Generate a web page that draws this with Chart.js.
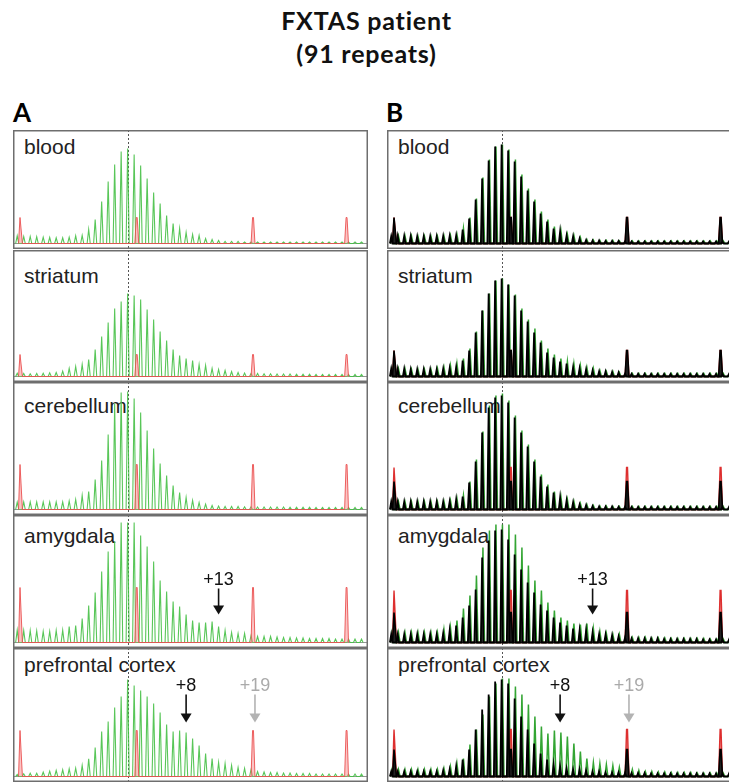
<!DOCTYPE html>
<html>
<head>
<meta charset="utf-8">
<script src="https://cdn.jsdelivr.net/npm/chart.js@4"></script>
<style>
  body { margin: 0; background: #fff; }
  #page { position: relative; width: 729px; height: 783px; overflow: hidden; font-family: "Liberation Sans", Arial, sans-serif; }
  .title { position: absolute; left: 2px; width: 729px; text-align: center; font-family: Lato, sans-serif; font-weight: 700; font-size: 25px; line-height: 25px; letter-spacing: 0.8px; color: #111; }
  .letter { position: absolute; font-family: Lato, sans-serif; font-weight: 700; font-size: 26px; line-height: 26px; color: #000; }
  .tissue { position: absolute; font-size: 21px; line-height: 21px; color: #222; white-space: nowrap; z-index: 0; }
  .note { position: absolute; font-size: 18px; line-height: 18px; white-space: nowrap; transform: translateX(-50%); z-index: 2; }
  canvas { position: absolute; z-index: 1; }
</style>
</head>
<body>
<div id="page">
  <div class="title" style="top:8px">FXTAS patient</div>
  <div class="title" style="top:41px">(91 repeats)</div>
  <div class="letter" style="left:13px;top:99px">A</div>
  <div class="letter" style="left:386px;top:99px">B</div>
</div>
<script>
// tissues, one panel per row
const tissues = ['blood', 'striatum', 'cerebellum', 'amygdala', 'prefrontal cortex'];

// peak heights per repeat (peak 17 = modal, under the dashed line)
// column A: green trace
const aBlood = [7.7,7,7,6.7,6.3,6,5.7,5.7,6.3,7.7, 8,14,24,42,62,79,92,95,89,78, 65,51,40,28,20,15,11,9,8,5, 4,3,2,2,2,1.5,1.5,1.5,1.5,1.5, 1.5,1.5,1.5,1.5,1.5,1.5,1.5,1.5,1.5,1.5, 1.5,1.5,1.5,1.5];
const aStriatum = [3.3,3,2.7,3,3.3,3.7,4,5.3,8,10, 12,17,27,40,54,68,75,83,81,77, 67,57,45,36,27,21,18,16,12,11, 8,7,6,5,4,3.5,3,3,2.7,2.7, 2.5,2.5,2.5,2.3,2.3,2.3,2,2,2,2, 2,2,2,2];
const aCerebellum = [7.3,7.5,7.5,7.5,7.5,7.5,7.5,7.5,8.5,10, 14,18,30,49,75,106,117,118,111,97, 79,61,46,34,24,17,12,9,7,5.3, 4,3.5,3,3,3,2.7,2.7,2.5,2.5,2.5, 2.5,2.5,2.3,2.3,2.3,2.3,2,2,2,2, 2,2,2,2];
const aAmygdala = [12.3,12,12,11.7,11,11,12,12.3,16,17, 24,37,50,71,91,101,120,120,120,107, 96,81,62,51,41,36,28,22,20,20, 21,16,12,10,9,9,7,6,6,6, 5.5,5,5,4.5,4.5,4,4,4,4,3.5, 3.5,3.5,3.5,3.5];
const aPrefrontal = [2,2.7,3.3,3.3,4.3,5.3,6,6.7,7.7,8.3, 11,17.7,29,45,55,69,80,97,91,86, 80,73,64,52,45,46,44,38,31,23, 18,14,13,11,9,8,7,5,4.5,4, 4,3.5,3.5,3,3,3,2.5,2.5,2.5,2.5, 2.5,2.5,2.5,2.5];

// column B: green trace and black trace
const bBloodGreen = [7,7.5,7.5,7.3,7,7,7,7,7.5,8, 9,15,26,45,66,84,97,99,94,84, 69,55,44,32,24,17,13,9,8,6, 4,3.5,3,3,3,2.5,2.5,2.5,2.5,2.5, 2.5,2.5,2.5,2.5,2.5,2.5,2.5,2.5,2.5,2.5, 2.5,2.5,2.5,2.5];
const bBloodBlack = [7,7.7,7.5,7.3,7,7,7,7,7.3,7.5, 8,14,25,44,65,83,97,99,93,82, 67,53,42,30,22,15,12,8,7,5, 3.5,3,3,2.5,2.5,2.5,2,2,2,2, 2,2,2,2,2,2,2,2,2,2, 2,2,2,2];
const bStriatumGreen = [7.7,7.7,7.7,7,7,7,7,8,9.3,11, 13,18,28,45,66,83,96,98,92,82, 68,57,48,36,28,22,18,15,13,11, 9,8,6,5,5,4,3.5,3,3,3, 3,3,3,3,3,3,3,3,3,3, 3,3,3,3];
const bStriatumBlack = [7.7,7.7,7.7,7,7,7,7,7,7.7,8.3, 9.3,16,26,44,66,83,96,98,92,81, 66,55,44,34,24,19,15,13,9,8, 7,6,5,5,4.3,4,2.7,2.7,2.7,2.7, 2.5,2.5,2.5,2.5,2.5,2.5,2.5,2.5,2.5,2.5, 2.5,2.5,2.5,2.5];
const bCerebellumGreen = [7.7,7.7,7.7,7.7,7.7,7.7,7.7,7.7,8,9, 11,14,28,50,78,104,114,116,109,94, 79,65,50,35,25,18,13,10,8,6, 5,4,3.5,3.5,3,3,3,3,3,3, 3,3,3,3,3,3,3,3,3,3, 3,3,3,3];
const bCerebellumBlack = [7.7,7.7,7.7,7.7,7.7,7.7,7.7,7.7,7.7,8, 10,13,27,48,77,102,112,114,107,92, 77,63,48,33,23,17,12,9,7,5, 4.3,3.5,3,3,3,2.7,2.7,2.5,2.5,2.5, 2.5,2.5,2.5,2.5,2.5,2.5,2.5,2.5,2.5,2.5, 2.5,2.5,2.5,2.5];
const bAmygdalaGreen = [10,10,10,10,10,10,10,10,13,15, 22,34,47,67,95,112,118,118,118,108, 95,77,62,52,40,32,25,22,19,18, 19,14,11,9,8,8,5,5,5,5, 4.5,4.5,4.5,4,4,4,4,4,4,3.5, 3.5,3.5,3.5,3.5];
const bAmygdalaBlack = [8,8,8,8,8,8,8,8,9,12, 17,25,37,53,85,102,112,113,103,88, 73,60,50,38,32,25,20,17,14,12, 12,10,8,8,7,6,5,4,4,4, 4,4,3.5,3.5,3.5,3.5,3.5,3.5,3,3, 3,3,3,3];
const bPrefrontalGreen = [7,7,7,7,7,7,7,7,8,10, 13,18,32,47,62,80,93,98,98,90, 82,72,60,50,43,46,44,40,33,25, 18,14,13,12,11,9,8,7,6,5, 5,4.5,4.5,4,4,4,4,3.5,3.5,3.5, 3.5,3.5,3.5,3.5];
const bPrefrontalBlack = [5,5,5,5,5,5,5,5,6,7, 10,17,27,47,67,82,95,97,93,78, 60,47,33,23,17,12,10,8,7,7, 6,5,5,4,4,4,3.5,3.5,3.5,3.5, 3,3,3,3,3,3,3,3,3,3, 3,3,3,3];

const aGreen = [aBlood, aStriatum, aCerebellum, aAmygdala, aPrefrontal];
const bGreen = [bBloodGreen, bStriatumGreen, bCerebellumGreen, bAmygdalaGreen, bPrefrontalGreen];
const bBlack = [bBloodBlack, bStriatumBlack, bCerebellumBlack, bAmygdalaBlack, bPrefrontalBlack];

// size standard (red) peaks, in repeat units, and their heights per panel
const markerX = [0.5, 18.4, 36.3, 50.7];
const aRed = [26, 22, 45, 55, 46];
const bRed = [26, 26, 42, 52, 47];
const bBlackMarker = [26, 26, 28, 30, 27];

const dashX = 17;

// arrows: panel index, repeat position, label, tail/tip heights
const arrowPanel = [3, 4, 4];
const arrowX = [31, 26, 36.6];
const arrowText = ['+13', '+8', '+19'];
const arrowTail = [54, 82, 82];
const arrowTip = [28, 54, 54];
const arrowColor = ['#111', '#111', '#b3b3b3'];

// layout
const panelTop = [130, 250, 382, 515, 648];
const panelBottom = [249, 382, 515, 648, 782];
const labelOffset = [24, 33, 31, 28, 24];
const colLeft = [13, 387];
const panelW = 355;
const baseGap = 5.5;
const xMin = -0.65, xMax = 54;

function spikes(heights, halfW, shift) {
  const pts = [];
  heights.forEach((h, k) => {
    pts.push({x: k + shift - halfW, y: 0}, {x: k + shift, y: h}, {x: k + shift + halfW, y: 0});
  });
  return pts;
}
function markers(h) {
  const pts = [];
  markerX.forEach(m => {
    pts.push({x: m - 0.3, y: 0}, {x: m - 0.07, y: h}, {x: m + 0.07, y: h}, {x: m + 0.3, y: 0});
  });
  return pts;
}

const panelDeco = {
  id: 'panelDeco',
  beforeDatasetsDraw(chart) {
    const ctx = chart.ctx;
    const x = Math.round(chart.scales.x.getPixelForValue(dashX)) + 0.5;
    ctx.save();
    ctx.strokeStyle = '#555';
    ctx.lineWidth = 1;
    ctx.setLineDash([2, 2]);
    ctx.beginPath();
    ctx.moveTo(x, 0);
    ctx.lineTo(x, chart.height);
    ctx.stroke();
    ctx.restore();
  },
  afterDatasetsDraw(chart, args, opts) {
    const ctx = chart.ctx;
    ctx.save();
    (opts.arrows || []).forEach(i => {
      const x = chart.scales.x.getPixelForValue(arrowX[i]);
      const y0 = chart.scales.y.getPixelForValue(arrowTail[i]);
      const y1 = chart.scales.y.getPixelForValue(arrowTip[i]);
      ctx.strokeStyle = arrowColor[i];
      ctx.fillStyle = arrowColor[i];
      ctx.lineWidth = 1.6;
      ctx.beginPath();
      ctx.moveTo(x, y0);
      ctx.lineTo(x, y1 - 8);
      ctx.stroke();
      ctx.beginPath();
      ctx.moveTo(x - 5.5, y1 - 9);
      ctx.lineTo(x + 5.5, y1 - 9);
      ctx.lineTo(x, y1);
      ctx.closePath();
      ctx.fill();
    });
    ctx.strokeStyle = '#6e6e6e';
    ctx.lineWidth = 1.5;
    ctx.strokeRect(0.75, 0.75, chart.width - 1.5, chart.height - 1.5);
    ctx.restore();
  }
};

const page = document.getElementById('page');

function makePanel(col, p) {
  const h = panelBottom[p] - panelTop[p];
  const cv = document.createElement('canvas');
  cv.width = panelW;
  cv.height = h;
  cv.style.left = colLeft[col] + 'px';
  cv.style.top = panelTop[p] + 'px';
  page.appendChild(cv);

  const lab = document.createElement('div');
  lab.className = 'tissue';
  lab.textContent = tissues[p];
  lab.style.left = (colLeft[col] + 11) + 'px';
  lab.style.top = (panelTop[p] + labelOffset[p] - 18) + 'px';
  page.appendChild(lab);

  let datasets;
  if (col === 0) {
    datasets = [
      {data: markers(aRed[p]), borderColor: 'rgba(235,80,80,0.9)', backgroundColor: 'rgba(245,150,150,0.55)', fill: 'origin', borderWidth: 1, order: 0},
      {data: spikes(aGreen[p], 0.24, 0), borderColor: 'rgba(70,192,70,0.9)', borderWidth: 1.1, fill: false, order: 1},
      {data: [{x: xMin, y: 0}, {x: xMax, y: 0}], borderColor: 'rgba(60,60,60,0.55)', borderWidth: 1, fill: false, order: 2}
    ];
  } else {
    datasets = [
      {data: spikes(bBlack[p], 0.2, 0), borderColor: '#000', backgroundColor: 'rgba(45,45,45,0.85)', fill: 'origin', borderWidth: 1.8, order: 0},
      {data: markers(bBlackMarker[p]), borderColor: '#000', backgroundColor: '#222', fill: 'origin', borderWidth: 1.6, order: 1},
      {data: markers(bRed[p]), borderColor: 'rgba(220,40,40,0.95)', backgroundColor: 'rgba(220,70,70,0.6)', fill: 'origin', borderWidth: 1.4, order: 2},
      {data: spikes(bGreen[p], 0.24, 0.12), borderColor: 'rgba(40,160,40,0.95)', borderWidth: 1.5, fill: false, order: 3}
    ];
  }
  datasets.forEach(d => { d.pointRadius = 0; d.tension = 0; });

  const myArrows = [];
  arrowPanel.forEach((ap, i) => { if (ap === p) myArrows.push(i); });

  const chart = new Chart(cv.getContext('2d'), {
    type: 'line',
    data: {datasets: datasets},
    options: {
      responsive: false,
      animation: false,
      events: [],
      layout: {padding: 0},
      scales: {
        x: {type: 'linear', min: xMin, max: xMax, display: false},
        y: {min: -baseGap, max: h - baseGap, display: false}
      },
      plugins: {legend: {display: false}, tooltip: {enabled: false}, panelDeco: {arrows: myArrows}}
    },
    plugins: [panelDeco]
  });

  myArrows.forEach(i => {
    const note = document.createElement('div');
    note.className = 'note';
    note.textContent = arrowText[i];
    note.style.color = arrowColor[i] === '#111' ? '#111' : '#aaa';
    note.style.left = (colLeft[col] + chart.scales.x.getPixelForValue(arrowX[i])) + 'px';
    note.style.top = (panelTop[p] + chart.scales.y.getPixelForValue(arrowTail[i]) - 4 - 15) + 'px';
    page.appendChild(note);
  });
}

for (let col = 0; col < 2; col++) {
  for (let p = 0; p < tissues.length; p++) makePanel(col, p);
}
</script>
</body>
</html>
